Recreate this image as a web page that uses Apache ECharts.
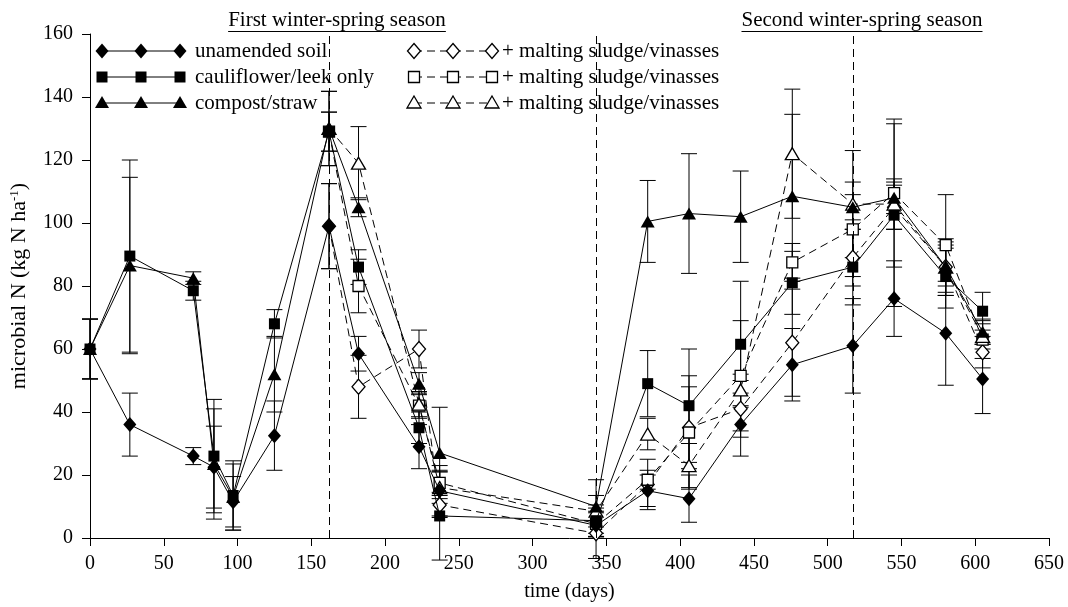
<!DOCTYPE html>
<html><head><meta charset="utf-8">
<script src="https://cdn.jsdelivr.net/npm/echarts@6/dist/echarts.min.js"></script>
<style>html,body{margin:0;padding:0;background:#fff}#c{width:1068px;height:607px}</style>
</head><body><div id="c"></div>
<script>
const FONT = '"Liberation Serif", "Times New Roman", serif';

// ---- data ----
const daysAll = [0, 27, 70, 84, 97, 125, 162, 182, 223, 237, 343, 378, 406, 441, 476, 517, 545, 580, 605];
const daysAmended = [162, 182, 223, 237, 343, 378, 406, 441, 476, 517, 545, 580, 605];

const unamended   = [60, 36, 26, 22.5, 11.5, 32.5, 99, 58.5, 29, 15, 4, 15, 12.5, 36, 55, 61, 76, 65, 50.5];
const unamendedSd = [9.5, 10, 2.7, 13, 8, 11, 13.5, 5.5, 7, 8, 4, 5, 7.5, 10, 11.5, 15, 12, 16.5, 11];

const cauliflower   = [60, 89.5, 78.5, 26, 13.5, 68, 129, 86, 35, 7, 5.5, 49, 42, 61.5, 81, 86, 102.5, 83, 72];
const cauliflowerSd = [9.5, 30.5, 3, 18, 11, 4.5, 6.2, 5.5, 5, 14, 5, 10.5, 18, 20, 10, 12, 29, 10, 6];

const compost   = [60, 86.5, 82.5, 23.5, 13, 52, 130, 105, 49, 27, 10, 100.5, 103, 102, 108.5, 105, 108, 86, 65.5];
const compostSd = [9.5, 28, 2, 17.5, 10.5, 12, 11.8, 3, 3.5, 14.5, 8.5, 13, 19, 14.5, 26, 4, 5, 8, 4];

const unamendedMS   = [99, 48, 60, 10.5, 1.5, 17, 35, 41, 62, 89, 105, 86, 59];
const unamendedMSSd = [13.5, 10, 6, 4, 8, 8, 13, 9, 17, 9, 7, 6, 5];

const cauliflowerMS   = [129, 80, 42, 17.5, 4.5, 18.5, 33.5, 51.5, 87.5, 98, 109.5, 93, 63];
const cauliflowerMSSd = [6.2, 8.5, 4, 4, 4, 3, 18, 17.5, 6, 15, 23.5, 16, 6];

const compostMS   = [130, 119, 42.5, 16, 8.5, 33, 23, 47, 122, 106, 106, 86, 64];
const compostMSSd = [11.8, 11.6, 4, 5, 5, 5, 7, 5, 20.5, 17, 8, 9, 4];

const seriesNames = ['unamended soil', 'cauliflower/leek only', 'compost/straw'];
const amendedLabel = '+ malting sludge/vinasses';
const seasonStarts = [162, 343, 517];
const seasonTitles = ['First winter-spring season', 'Second winter-spring season'];
const xName = 'time (days)';
const yName = 'microbial N (kg N ha{sup|-1})';

// ---- build ----
const chart = echarts.init(document.getElementById('c'), null, {renderer: 'canvas'});

function zip(days, vals) { return days.map((d, i) => [d, vals[i]]); }
function zipErr(days, vals, sd) { return days.map((d, i) => [d, vals[i], sd[i]]); }

function errRender(params, api) {
  const x = api.value(0), y = api.value(1), e = api.value(2);
  const top = api.coord([x, y + e]), bot = api.coord([x, y - e]);
  const hw = 8;
  const st = {stroke: '#000', lineWidth: 1};
  return {type: 'group', children: [
    {type: 'line', shape: {x1: top[0], y1: top[1], x2: bot[0], y2: bot[1]}, style: st},
    {type: 'line', shape: {x1: top[0] - hw, y1: top[1], x2: top[0] + hw, y2: top[1]}, style: st},
    {type: 'line', shape: {x1: bot[0] - hw, y1: bot[1], x2: bot[0] + hw, y2: bot[1]}, style: st}
  ]};
}

const SYM = {
  diamond: {symbol: 'diamond', size: [13, 15]},
  square: {symbol: 'rect', size: 11},
  triangle: {symbol: 'triangle', size: [14, 12]}
};

function lineSeries(name, days, vals, shape, filled, extra) {
  return Object.assign({
    name: name, type: 'line', data: zip(days, vals),
    symbol: SYM[shape].symbol, symbolSize: SYM[shape].size, showSymbol: true,
    lineStyle: {color: '#000', width: 1, type: filled ? 'solid' : [8, 5]},
    itemStyle: {color: filled ? '#000' : '#fff', borderColor: '#000', borderWidth: filled ? 0 : 1.3},
    z: filled ? 4 : 3, animation: false, clip: false
  }, extra || {});
}
function errSeries(days, vals, sd) {
  return {type: 'custom', renderItem: errRender, data: zipErr(days, vals, sd),
    encode: {x: 0, y: 1}, clip: false, z: 2, silent: true, animation: false};
}

const series = [
  errSeries(daysAll, unamended, unamendedSd),
  errSeries(daysAll, cauliflower, cauliflowerSd),
  errSeries(daysAll, compost, compostSd),
  errSeries(daysAmended, unamendedMS, unamendedMSSd),
  errSeries(daysAmended, cauliflowerMS, cauliflowerMSSd),
  errSeries(daysAmended, compostMS, compostMSSd),
  lineSeries(seriesNames[0] + ' ' + amendedLabel, daysAmended, unamendedMS, 'diamond', false),
  lineSeries(seriesNames[1] + ' ' + amendedLabel, daysAmended, cauliflowerMS, 'square', false),
  lineSeries(seriesNames[2] + ' ' + amendedLabel, daysAmended, compostMS, 'triangle', false),
  lineSeries(seriesNames[0], daysAll, unamended, 'diamond', true, {
    markLine: {silent: true, symbol: 'none', animation: false,
      label: {show: false},
      lineStyle: {color: '#000', width: 1, type: [8, 5]},
      data: seasonStarts.map(d => ({xAxis: d}))}
  }),
  lineSeries(seriesNames[1], daysAll, cauliflower, 'square', true),
  lineSeries(seriesNames[2], daysAll, compost, 'triangle', true)
];

// ---- legend & titles (graphic) ----
const LFONT = '21px ' + FONT;
const ctx = document.createElement('canvas').getContext('2d');
ctx.font = LFONT;
function tw(s) { return ctx.measureText(s).width; }

function marker(shape, cx, cy, filled) {
  const fill = filled ? '#000' : '#fff';
  const style = {fill: fill, stroke: '#000', lineWidth: filled ? 0 : 1.3};
  if (shape === 'diamond') return {type: 'polygon', shape: {points: [[cx, cy - 7.5], [cx + 6.5, cy], [cx, cy + 7.5], [cx - 6.5, cy]]}, style: style, z: 10};
  if (shape === 'square') return {type: 'rect', shape: {x: cx - 5.5, y: cy - 5.5, width: 11, height: 11}, style: style, z: 10};
  return {type: 'polygon', shape: {points: [[cx, cy - 7], [cx + 7, cy + 5], [cx - 7, cy + 5]]}, style: style, z: 10};
}
const graphics = [];
const shapes = ['diamond', 'square', 'triangle'];
const rowY = [51, 77, 103];
shapes.forEach((sh, i) => {
  const y = rowY[i];
  const xs = [102, 141, 180];
  graphics.push({type: 'line', shape: {x1: xs[0], y1: y, x2: xs[2], y2: y}, style: {stroke: '#000', lineWidth: 1}, z: 9});
  xs.forEach(x => graphics.push(marker(sh, x, y, true)));
  graphics.push({type: 'text', x: 195, y: y, style: {text: seriesNames[i], font: LFONT, fill: '#000', textVerticalAlign: 'middle', verticalAlign: 'middle'}, z: 10});
  const xs2 = [414, 453, 492];
  graphics.push({type: 'line', shape: {x1: xs2[0], y1: y, x2: xs2[2], y2: y}, style: {stroke: '#000', lineWidth: 1, lineDash: [8, 5]}, z: 9});
  xs2.forEach(x => graphics.push(marker(sh, x, y, false)));
  graphics.push({type: 'text', x: 502, y: y, style: {text: amendedLabel, font: LFONT, fill: '#000', textVerticalAlign: 'middle', verticalAlign: 'middle'}, z: 10});
});
const titleCenters = [337, 862];
seasonTitles.forEach((t, i) => {
  const w = tw(t), cx = titleCenters[i];
  graphics.push({type: 'text', x: cx - w / 2, y: 20, style: {text: t, font: LFONT, fill: '#000', textVerticalAlign: 'middle', verticalAlign: 'middle'}, z: 10});
  graphics.push({type: 'line', shape: {x1: cx - w / 2, y1: 31.5, x2: cx + w / 2, y2: 31.5}, style: {stroke: '#000', lineWidth: 1}, z: 10});
});

const axisCommon = {
  axisLine: {show: true, lineStyle: {color: '#000', width: 1}},
  axisTick: {show: true, inside: false, length: 8, lineStyle: {color: '#000'}},
  splitLine: {show: false},
  axisLabel: {color: '#000', fontFamily: FONT, fontSize: 20},
  nameTextStyle: {color: '#000', fontFamily: FONT, fontSize: 20}
};

chart.setOption({
  animation: false,
  backgroundColor: '#fff',
  grid: {left: 90, right: 19, top: 34, bottom: 67, containLabel: false},
  xAxis: Object.assign({}, axisCommon, {
    type: 'value', min: 0, max: 650, interval: 50,
    name: xName, nameLocation: 'middle', nameGap: 44,
    axisLabel: Object.assign({}, axisCommon.axisLabel, {margin: 16})
  }),
  yAxis: Object.assign({}, axisCommon, {
    type: 'value', min: 0, max: 160, interval: 20,
    name: yName, nameLocation: 'middle', nameGap: 51, nameRotate: 90,
    axisLabel: Object.assign({}, axisCommon.axisLabel, {margin: 17}),
    nameTextStyle: {color: '#000', fontFamily: FONT, fontSize: 22,
      rich: {sup: {fontFamily: FONT, fontSize: 13, verticalAlign: 'top', lineHeight: 22, padding: [0, 0, 11, 0]}}}
  }),
  series: series,
  graphic: graphics
});
</script></body></html>
